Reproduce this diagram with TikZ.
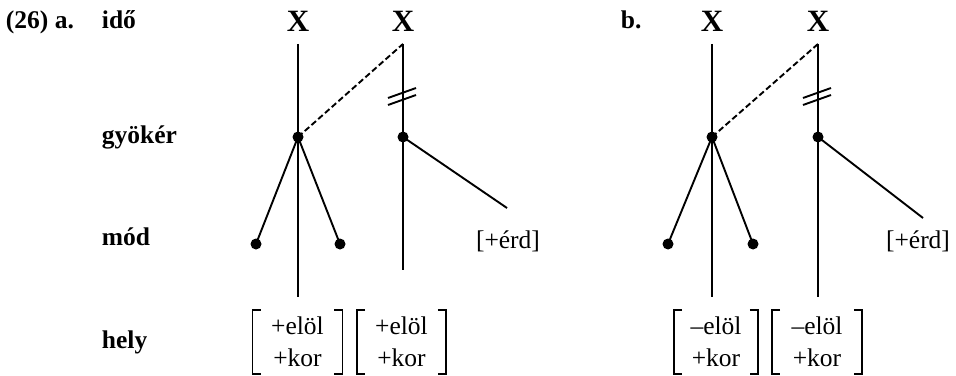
\documentclass[tikz,border=0pt]{standalone}
\usepackage{fontspec}
\setmainfont{Liberation Serif}
\newcommand\diafont{\fontsize{12.75}{16}\selectfont}
\begin{document}
\begin{tikzpicture}[x=0.5pt,y=-0.5pt,line width=0.95pt,
  lbl/.style={font=\diafont\bfseries,anchor=base west,inner sep=0pt},
  xnode/.style={font=\fontsize{15.5}{18}\selectfont\bfseries,anchor=base,inner xsep=0pt,inner ysep=5.5pt},
  dot/.style={circle,fill,inner sep=0pt,minimum size=5.5pt},
  feat/.style={font=\diafont,inner sep=0pt},
  fmatrix/.style={font=\diafont,align=center,inner sep=0pt,minimum width=44pt,minimum height=31pt},
  link/.style={dash pattern=on 3pt off 1.5pt}]
\useasboundingbox (0,0) rectangle (956,375);
% tier labels
\node[lbl] (num) at (5,28) {(26) a.};
\node[lbl] (ido) at (101,28) {idő};
\node[lbl] (gyok) at (101,143) {gyökér};
\node[lbl] (mod) at (101,245) {mód};
\node[lbl] (hely) at (101,348) {hely};
\node[lbl] (bb) at (620,28) {b.};
% skeleton
\foreach \n/\x in {xa1/298,xa2/403,xb1/712,xb2/818}
  \node[xnode] (\n) at (\x,32) {X};
\foreach \n/\x in {ra1/298,ra2/403,rb1/712,rb2/818}
  \node[dot] (\n) at (\x,137) {};
\foreach \n/\x in {ma1/256,ma2/340,mb1/668,mb2/753}
  \node[dot] (\n) at (\x,244) {};
\path (298,297) coordinate (ea1)
      (403,270) coordinate (ea2)
      (712,297) coordinate (eb1)
      (818,297) coordinate (eb2)
      (507,208) coordinate (da)
      (923,218) coordinate (db);
\node[feat] (erda) at (508,241) {[+érd]};
\node[feat] (erdb) at (918,241) {[+érd]};
% association lines
\foreach \p in {a,b}{
  \draw (x\p1.south) -- (r\p1.center) -- (e\p1);
  \draw (x\p2.south) -- (r\p2.center) -- (e\p2);
  \draw (r\p1.center) -- (m\p1.center);
  \draw (r\p1.center) -- (m\p2.center);
  \draw (r\p2.center) -- (d\p);
  \draw[link] (r\p1.center) -- (x\p2.south);
}
% delinking
\foreach \x in {388,803}
  \foreach \d in {0,7}
    \draw (\x,105-\d) -- ++(28,-10);
% place features
\node[fmatrix] (fa1) at (297.5,342) {+elöl\\+kor};
\node[fmatrix,minimum width=43.5pt] (fa2) at (401.5,342) {+elöl\\+kor};
\node[fmatrix,minimum width=41pt] (fb1) at (716,342) {–elöl\\+kor};
\node[fmatrix] (fb2) at (817,342) {–elöl\\+kor};
\foreach \f in {fa1,fa2,fb1,fb2}
  \draw[line width=0.6pt] ([xshift=4pt]\f.north west) -- (\f.north west) -- (\f.south west) -- ++(4pt,0)
    ([xshift=-4pt]\f.north east) -- (\f.north east) -- (\f.south east) -- ++(-4pt,0);
\end{tikzpicture}
\end{document}
